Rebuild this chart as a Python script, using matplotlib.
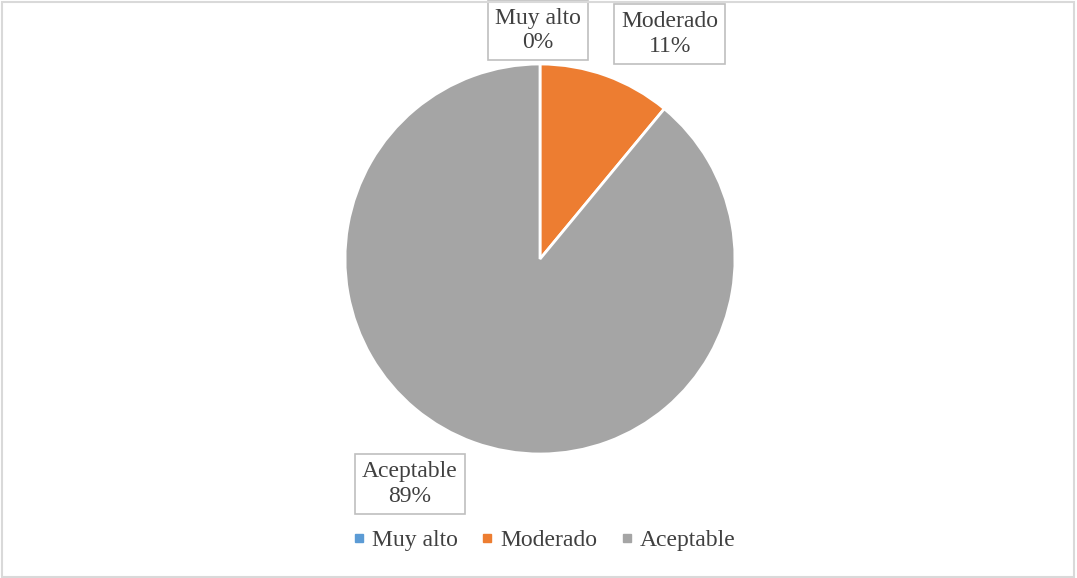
import matplotlib
matplotlib.use("Agg")
import matplotlib.pyplot as plt
from matplotlib.lines import Line2D
from matplotlib.patches import Rectangle

categories = ["Muy alto", "Moderado", "Aceptable"]
values = [0, 11, 89]
colors = ["#5B9BD5", "#ED7D31", "#A5A5A5"]

plt.rcParams['font.family'] = ['Liberation Serif', 'DejaVu Serif']
txt_color = "#404040"

W, H = 1077, 578
fig = plt.figure(figsize=(W / 100, H / 100), dpi=100)

# outer border
fig.patches.append(Rectangle((0.002, 0.002), 0.995, 0.995, transform=fig.transFigure,
                             fill=False, edgecolor="#d9d9d9", linewidth=1.5))

cx, cy, r = 540, 259, 195
ax = fig.add_axes([(cx - r) / W, (H - cy - r) / H, 2 * r / W, 2 * r / H])
wedges, _ = ax.pie(values, colors=colors, startangle=90, counterclock=False,
                   radius=1, wedgeprops=dict(edgecolor="white", linewidth=2))
ax.set_xlim(-1, 1)
ax.set_ylim(-1, 1)
ax.axis("off")

# label positions (layout, in axes data units)
label_pos = [(-0.01, 1.172), (0.665, 1.155), (-0.667, -1.155)]
total = sum(values)
for cat, v, (x, y) in zip(categories, values, label_pos):
    ax.text(x, y, f"{cat}\n{round(100 * v / total)}%", ha="center", va="center",
            fontsize=17, color=txt_color, linespacing=1.22, clip_on=False,
            bbox=dict(boxstyle="square,pad=0.3", facecolor="white",
                      edgecolor="#bfbfbf", linewidth=1.2))

handles = [Line2D([], [], marker="s", linestyle="none", markersize=6,
                  markerfacecolor=c, markeredgecolor=c) for c in colors]
fig.legend(handles, categories, loc="center", bbox_to_anchor=(544 / W, 1 - 540 / H),
           ncol=3, frameon=False, fontsize=17, labelcolor=txt_color,
           handlelength=0.5, handletextpad=0.3, columnspacing=1.0)

fig.savefig("out.png", dpi=100)
